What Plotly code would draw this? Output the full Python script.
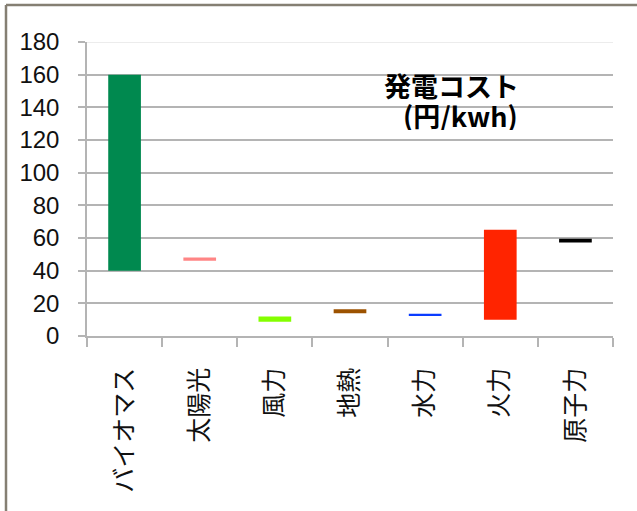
import plotly.graph_objects as go

# Generation cost ranges (円/kWh): low and high end for each source
categories = ["バイオマス", "太陽光", "風力", "地熱", "水力", "火力", "原子力"]
cost_low = [40, 46, 8.8, 14, 12.2, 10, 57.2]
cost_high = [160, 48, 12, 16.4, 13.6, 65, 59.6]
bar_colors = ["#00894f", "#ff8585", "#84ff00", "#9c5200", "#0a3cff", "#ff2400", "#000000"]

y_ticks = [0, 20, 40, 60, 80, 100, 120, 140, 160, 180]

W, H = 637, 511
L, R, T, B = 87, 24, 42, 175
PW, PH = W - L - R, H - T - B


def px_x(p):
    return (p - L) / PW


def px_y(p):
    return (H - B - p) / PH


fig = go.Figure()
fig.add_trace(go.Bar(
    x=categories,
    y=[h - l for l, h in zip(cost_low, cost_high)],
    base=cost_low,
    marker=dict(color=bar_colors, line=dict(width=0)),
    showlegend=False,
    hoverinfo="skip",
))

grid = "#b4b4b4"
fig.update_layout(
    width=W, height=H,
    margin=dict(l=L, r=R, t=T, b=B, pad=0),
    paper_bgcolor="white", plot_bgcolor="white",
    bargap=0.565,
    xaxis=dict(
        type="category", tickson="boundaries",
        showline=True, linecolor=grid, linewidth=1.5,
        ticks="outside", ticklen=9, tickcolor=grid, tickwidth=1.5,
        tickangle=-90, ticklabelstandoff=20,
        tickfont=dict(family="Noto Sans CJK JP", size=25, color="#111"),
        showgrid=False,
    ),
    yaxis=dict(
        range=[0, 180], tickvals=y_ticks,
        showline=True, linecolor=grid, linewidth=1.5,
        ticks="outside", ticklen=7, tickcolor=grid, tickwidth=1.5,
        ticklabelstandoff=14,
        tickfont=dict(family="Liberation Sans", size=24, color="#111"),
        showgrid=True, gridcolor=grid, gridwidth=1.5,
        zeroline=False,
    ),
    font=dict(family="Noto Sans CJK JP"),
)

# top gridline is drawn much lighter
fig.add_shape(type="line", xref="paper", yref="y", x0=0, x1=1, y0=180, y1=180,
              line=dict(color="#ececec", width=2), layer="above")

# two-line chart title inside the plot area, one fixed-height box per line
title_font = dict(family="Noto Sans CJK JP", size=27, color="black", weight="bold")
fig.add_annotation(text="発電コスト", xref="paper", yref="paper",
                   x=px_x(383), y=px_y(85), xanchor="left", yanchor="middle",
                   height=30, valign="middle", borderpad=0,
                   showarrow=False, font=title_font)
fig.add_annotation(text="(円/kwh)", xref="paper", yref="paper",
                   x=px_x(402), y=px_y(115), xanchor="left", yanchor="middle",
                   height=30, valign="middle", borderpad=0,
                   showarrow=False, font=title_font)

# outer frame along the top and left edges
frame = dict(color="#857f73", width=2.5)
fig.add_shape(type="line", xref="paper", yref="paper",
              x0=px_x(6), x1=px_x(W + 5), y0=px_y(5), y1=px_y(5), line=frame)
fig.add_shape(type="line", xref="paper", yref="paper",
              x0=px_x(6), x1=px_x(6), y0=px_y(5), y1=px_y(H + 5), line=frame)

fig.write_html("out.html")
